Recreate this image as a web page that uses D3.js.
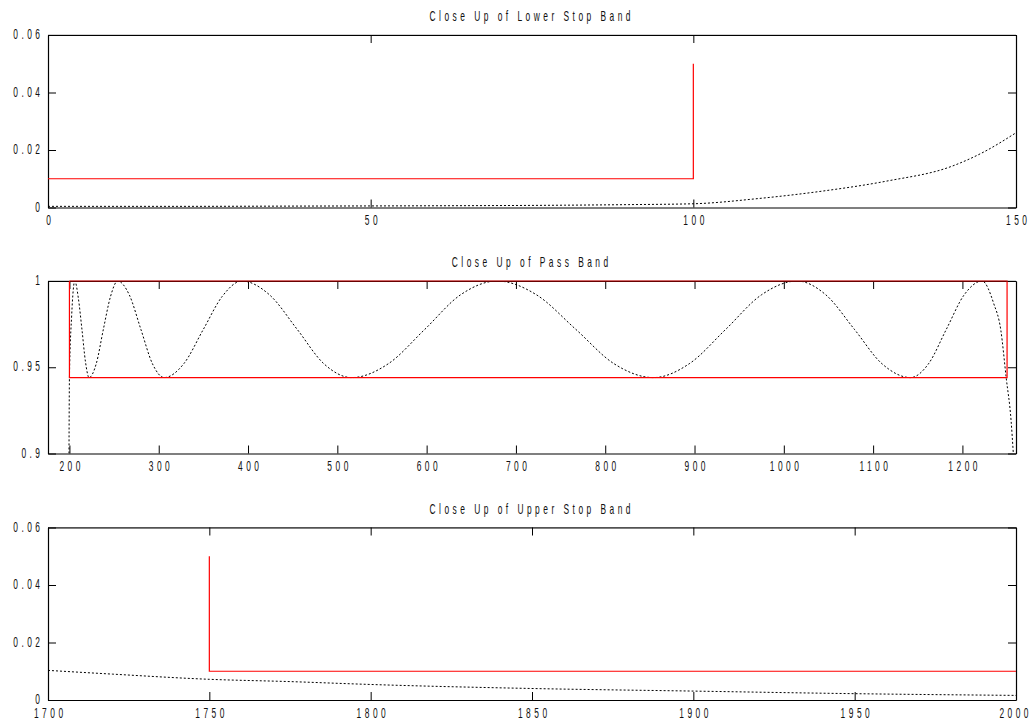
<!DOCTYPE html>
<html><head><meta charset="utf-8">
<script src="https://cdn.jsdelivr.net/npm/d3@7/dist/d3.min.js"></script>
<style>body{margin:0;background:#fff}svg{display:block}</style>
</head><body>
<svg id="c" width="1033" height="723"></svg>
<script>
// ---- Data ----
const titles = ["Close Up of Lower Stop Band", "Close Up of Pass Band", "Close Up of Upper Stop Band"];

// Lower stop band response
const lowerX = [0, 20, 40, 60, 80, 90, 100, 110, 120, 130, 140, 145, 150];
const lowerY = [0.0004, 0.0004, 0.0005, 0.0006, 0.0008, 0.001, 0.0013, 0.0031, 0.0057, 0.0092, 0.0143, 0.0193, 0.026];
const lowerSpecX = [0, 100, 100];
const lowerSpecY = [0.01, 0.01, 0.05];

// Pass band response
const passX = [199.5, 200, 202.5, 206,
  210, 214, 218, 222,
  230, 238, 246, 254,
  267, 280, 293, 306,
  328, 350, 371, 393,
  424, 455, 485, 516,
  557, 598, 638, 679,
  723, 767, 810, 854,
  894, 935, 975, 1015,
  1047, 1079, 1110, 1142,
  1162, 1182, 1202, 1222,
  1235, 1243, 1249, 1254.5, 1257];
const passY = [0.9, 0.944, 0.98, 1.0,
  0.99, 0.972, 0.953, 0.944,
  0.952, 0.972, 0.991, 1.0,
  0.992, 0.972, 0.952, 0.944,
  0.952, 0.972, 0.991, 1.0,
  0.992, 0.972, 0.952, 0.944,
  0.952, 0.972, 0.992, 1.0,
  0.992, 0.972, 0.952, 0.944,
  0.952, 0.972, 0.992, 1.0,
  0.992, 0.972, 0.952, 0.944,
  0.952, 0.972, 0.992, 1.0,
  0.987, 0.9715, 0.944, 0.919, 0.9];
const passSpecX = [200, 1250, 1250, 200, 200];
const passSpecY = [1, 1, 0.944, 0.944, 1];

// Upper stop band response
const upperX = [1700, 1720, 1750, 1775, 1800, 1850, 1900, 1950, 2000];
const upperY = [0.0103, 0.0090, 0.0072, 0.0064, 0.0054, 0.0040, 0.0031, 0.0022, 0.0016];
const upperSpecX = [1750, 1750, 2000];
const upperSpecY = [0.05, 0.01, 0.01];

// Axis ranges and tick labels
const xDomains = [[0, 150], [176, 1260], [1700, 2000]];
const yDomains = [[0, 0.06], [0.9, 1], [0, 0.06]];
const xTicks = [[0, 50, 100, 150], [200, 300, 400, 500, 600, 700, 800, 900, 1000, 1100, 1200], [1700, 1750, 1800, 1850, 1900, 1950, 2000]];
const yTicks = [[0, 0.02, 0.04, 0.06], [0.9, 0.95, 1], [0, 0.02, 0.04, 0.06]];

const curvesX = [lowerX, passX, upperX];
const curvesY = [lowerY, passY, upperY];
const specsX = [lowerSpecX, passSpecX, upperSpecX];
const specsY = [lowerSpecY, passSpecY, upperSpecY];

// ---- Layout ----
const left = 48, right = 1016;
const tops = [35, 281, 527.5];
const H = 172.5;
const FONT = "'Liberation Sans', Arial, sans-serif";
const SX = 0.6, LS = 5.8;
const W = 1033;

const svg = d3.select("#c");

function styleText(sel) {
  sel.attr("font-family", FONT).attr("font-size", 14).attr("fill", "#111")
     .style("letter-spacing", LS + "px");
}

for (let i = 0; i < 3; i++) {
  const top = tops[i], bottom = top + H;
  const x = d3.scaleLinear().domain(xDomains[i]).range([left, right]);
  const y = d3.scaleLinear().domain(yDomains[i]).range([bottom, top]);
  const fmt = d => String(+d.toFixed(4));
  const g = svg.append("g");

  const cid = "clip" + i;
  g.append("clipPath").attr("id", cid).append("rect")
    .attr("x", left).attr("y", top).attr("width", right - left).attr("height", H);

  // axes (ticks inward on all four sides)
  const ax = [
    g.append("g").attr("transform", `translate(0,${bottom})`)
      .call(d3.axisBottom(x).tickValues(xTicks[i]).tickSizeInner(-8).tickSizeOuter(0).tickPadding(8).tickFormat(fmt)),
    g.append("g").attr("transform", `translate(0,${top})`)
      .call(d3.axisTop(x).tickValues(xTicks[i]).tickSizeInner(-8).tickSizeOuter(0).tickFormat("")),
    g.append("g").attr("transform", `translate(${left},0)`)
      .call(d3.axisLeft(y).tickValues(yTicks[i]).tickSizeInner(-8).tickSizeOuter(0).tickPadding(7.5).tickFormat(fmt)),
    g.append("g").attr("transform", `translate(${right},0)`)
      .call(d3.axisRight(y).tickValues(yTicks[i]).tickSizeInner(-8).tickSizeOuter(0).tickFormat(""))
  ];
  ax.forEach(a => {
    a.select(".domain").attr("stroke", "#000").attr("stroke-width", 1.2);
    a.selectAll(".tick line").attr("stroke", "#000").attr("stroke-width", 1);
    a.selectAll("text").attr("transform", `scale(${SX},1)`).call(styleText);
  });
  ax[0].selectAll("text").attr("dx", (LS / 2) + "px");
  ax[2].selectAll("text").attr("dy", "0.26em");

  // keep the bottom tick labels inside the page
  ax[0].selectAll(".tick text").each(function () {
    const bb = this.getBoundingClientRect();
    if (bb.right > W - 1) {
      const shift = (bb.right - (W - 1)) / SX;
      d3.select(this).attr("dx", (LS / 2 - shift) + "px");
    }
  });

  // title
  g.append("g").attr("transform", `translate(${(left + right) / 2 - 2},${top - 14})`)
    .append("text").attr("text-anchor", "middle").attr("dx", (LS / 2) + "px")
    .attr("transform", `scale(${SX},1)`).text(titles[i]).call(styleText);

  // response curve (dotted black)
  const ptsC = curvesX[i].map((v, k) => [v, curvesY[i][k]]);
  const line = d3.line().x(d => x(d[0])).y(d => y(d[1])).curve(d3.curveMonotoneX);
  g.append("path").attr("clip-path", `url(#${cid})`).attr("d", line(ptsC))
    .attr("fill", "none").attr("stroke", "#000").attr("stroke-width", 1)
    .attr("stroke-dasharray", "2,2");

  // spec limits (red)
  const ptsS = specsX[i].map((v, k) => [v, specsY[i][k]]);
  const sline = d3.line().x(d => x(d[0])).y(d => y(d[1]));
  g.append("path").attr("d", sline(ptsS))
    .attr("fill", "none").attr("stroke", "#ff0000").attr("stroke-width", 1.2);

  // faint re-stroke of the top border so red over the frame looks darkened
  g.append("line").attr("x1", left).attr("x2", right).attr("y1", top).attr("y2", top)
    .attr("stroke", "#000").attr("stroke-opacity", 0.35).attr("stroke-width", 1.2);
}
</script>
</body></html>
